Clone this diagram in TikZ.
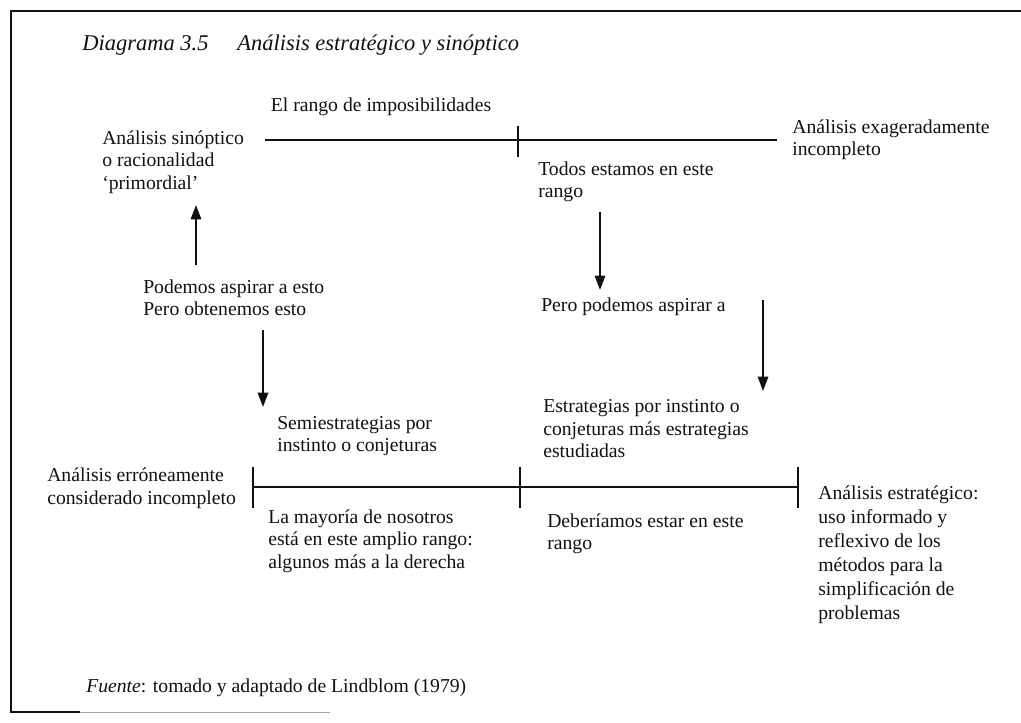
\documentclass[tikz,border=0pt]{standalone}
\usepackage{fontspec}
\setmainfont{Liberation Serif}
\usetikzlibrary{arrows.meta,positioning}
\definecolor{ink}{HTML}{111111}
\definecolor{faint}{HTML}{A3A3A3}
\tikzset{
  lbl/.style={inner sep=0pt,anchor=west,align=left,font=\fontsize{14}{16}\selectfont,text=ink},
  heading/.style={inner sep=0pt,anchor=west,font=\fontsize{16}{19}\selectfont\itshape,text=ink},
  rangeline/.style={line width=1.45pt,draw=ink},
  push/.style={-{Triangle[length=3.6mm,width=2.6mm]},line width=1.4pt,draw=ink},
  frame/.style={line width=2pt,draw=ink}
}

\begin{document}
\begin{tikzpicture}[x=0.025cm,y=-0.025cm]
    \useasboundingbox (0,0) rectangle (1021,723);
    % page frame
    \draw[frame] (1021,11) -- (11,11) -- (11,712) -- (80,712);
    \draw[faint,line width=0.6pt] (80,712) -- (330,712);

    \node[heading] (diag) at (82,45) {Diagrama 3.5};
    \node[heading] (titulo) at (237,45) {Análisis estratégico y sinóptico};

    % upper range
    \coordinate (topL) at (265,140);
    \coordinate (topM) at (518,140);
    \coordinate (topR) at (777,140);
    \draw[rangeline] (topL) -- (topR);
    \draw[rangeline] ([yshift=-12]topM) -- ([yshift=10]topM);
    \node[lbl,anchor=center] (imposible) at (381,107) {El rango de imposibilidades};
    \node[lbl] (sinoptico) at (102,162) {Análisis sinóptico\\o racionalidad\\`primordial'};
    \node[lbl] (exagerado) at (792,140) {Análisis exageradamente\\incompleto};
    \node[lbl] (todos) at (538,182) {Todos estamos en este\\rango};
    \node[lbl] (aspirar) at (541,307) {Pero podemos aspirar a};
    \node[lbl] (podemos) at (143,298) {Podemos aspirar a esto\\Pero obtenemos esto};

    % lower range
    \coordinate (botL) at (253,487);
    \coordinate (botM) at (520,487);
    \coordinate (botR) at (798,487);
    \draw[rangeline] (botL) -- (botR);
    \foreach \t in {botL,botM,botR}
      \draw[rangeline] ([yshift=-15]\t) -- ([yshift=14]\t);
    \node[lbl] (semi) at (277,436) {Semiestrategias por\\instinto o conjeturas};
    \node[lbl] (erroneo) at (47,488) {Análisis erróneamente\\considerado incompleto};
    \node[lbl] (mayoria) at (268,541) {La mayoría de nosotros\\está en este amplio rango:\\algunos más a la derecha};
    \node[lbl] (instinto) at (543,429) {Estrategias por instinto o\\conjeturas más estrategias\\estudiadas};
    \node[lbl] (deberiamos) at (547,534) {Deberíamos estar en este\\rango};
    \node[lbl,font=\fontsize{14}{17}\selectfont] (estrategico) at (818,555) {Análisis estratégico:\\uso informado y\\reflexivo de los\\métodos para la\\simplificación de\\problemas};

    \node[lbl] (fuente) at (86,688) {\textit{Fuente}: tomado y adaptado de Lindblom (1979)};

    % arrows
    \coordinate (upS) at (196,265);
    \coordinate (upE) at (196,205);
    \coordinate (leftS) at (263,330);
    \coordinate (leftE) at (263,407);
    \coordinate (midS) at (600,212);
    \coordinate (midE) at (600,290);
    \coordinate (rightS) at (763,300);
    \coordinate (rightE) at (763,391);
    \draw[push] (upS) -- (upE);
    \draw[push] (leftS) -- (leftE);
    \draw[push] (midS) -- (midE);
    \draw[push] (rightS) -- (rightE);
  \end{tikzpicture}
\end{document}
